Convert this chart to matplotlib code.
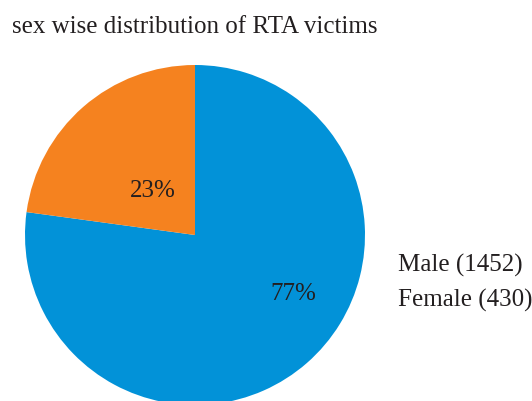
import numpy as np
import matplotlib.pyplot as plt

plt.rcParams['font.family'] = ['Liberation Serif', 'DejaVu Serif']

labels = ['Male', 'Female']
counts = [1452, 430]
colors = ['#0292d8', '#f5821f']
title = 'sex wise distribution of RTA victims'

fig = plt.figure(figsize=(5.32, 4.01), dpi=100)
ax = fig.add_axes([25 / 532, -4 / 401, 340 / 532, 340 / 401])

wedges, texts, autotexts = ax.pie(counts, colors=colors, startangle=90, counterclock=False,
                                  autopct='%1.0f%%', pctdistance=0.45,
                                  textprops={'fontsize': 18, 'color': '#231f20'})
ax.set_xlim(-1, 1)
ax.set_ylim(-1, 1)
ax.set_aspect('equal')

# label spots as in the original
autotexts[0].set_position((0.58, -0.345))
autotexts[1].set_position((-0.25, 0.26))

fig.text(12 / 532, 1 - 27 / 401, title, fontsize=18, color='#231f20', va='center')

leg = ax.legend(wedges, ['%s (%d)' % (l, c) for l, c in zip(labels, counts)],
                loc='center left', bbox_to_anchor=(375 / 532, 1 - 283 / 401),
                bbox_transform=fig.transFigure, frameon=False, fontsize=18,
                handlelength=0, handletextpad=0, labelspacing=0.48)
for h in leg.legend_handles:
    h.set_visible(False)
for t in leg.get_texts():
    t.set_color('#231f20')

fig.savefig('out.png', dpi=100)
